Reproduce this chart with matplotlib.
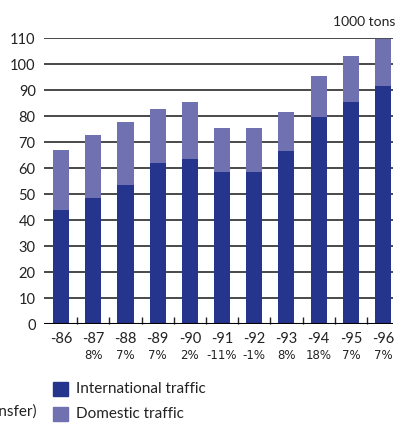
import matplotlib
matplotlib.use("Agg")
import matplotlib.pyplot as plt
from matplotlib.patches import Rectangle

# Freight volumes, 1000 tons
years = ["-86", "-87", "-88", "-89", "-90", "-91", "-92", "-93", "-94", "-95", "-96"]
growth = ["", "8%", "7%", "7%", "2%", "-11%", "-1%", "8%", "18%", "7%", "7%"]
international = [44, 48.5, 53.5, 62, 63.5, 58.5, 58.5, 66.5, 79.5, 85.5, 91.5]
domestic = [23, 24, 24, 20.5, 22, 17, 17, 15, 16, 17.5, 18]
yticks = [0, 10, 20, 30, 40, 50, 60, 70, 80, 90, 100, 110]

C_INT = "#25348c"
C_DOM = "#6f71b0"
W, H = 397, 423

plt.rcParams["font.family"] = ["Lato", "DejaVu Sans"]

fig = plt.figure(figsize=(W / 100, H / 100), dpi=100)
ax = fig.add_axes([44 / W, 1 - 324 / H, (393 - 44) / W, (324 - 38) / H])

x = list(range(len(years)))
ax.bar(x, international, width=0.5, color=C_INT, zorder=3)
ax.bar(x, domestic, width=0.5, bottom=international, color=C_DOM, zorder=3)

ax.set_xlim(-0.53, 10.31)
ax.set_ylim(0, 110)
for v in yticks[1:]:
    ax.axhline(v, color="#3a3a3a", lw=1.3, zorder=1)
ax.axhline(0, color="black", lw=1.5, zorder=4)

for s in ax.spines.values():
    s.set_visible(False)

ax.set_yticks(yticks)
ax.set_yticklabels([str(v) for v in yticks], fontsize=10.5, color="#222222")
ax.tick_params(axis="y", length=0, pad=6)

ax.set_xticks([i + 0.5 for i in range(len(years) - 1)])
ax.set_xticklabels([])
ax.tick_params(axis="x", direction="in", length=5, width=1, color="#222222")

for i, (yr, g) in enumerate(zip(years, growth)):
    ax.annotate(yr, (i, 0), xytext=(0, -6), textcoords="offset points",
                ha="center", va="top", fontsize=10.5, color="#222222")
    if g:
        ax.annotate(g, (i, 0), xytext=(0, -18), textcoords="offset points",
                    ha="center", va="top", fontsize=8.5, color="#222222",
                    family=["Liberation Sans Narrow", "DejaVu Sans"])

fig.text(395 / W, 1 - 22 / H, "1000 tons", ha="right", va="center",
         fontsize=10, color="#222222")

# Legend
for y0, col, lab in [(382, C_INT, "International traffic"),
                     (407, C_DOM, "Domestic traffic")]:
    fig.patches.append(Rectangle((53 / W, 1 - (y0 + 14) / H), 15 / W, 14 / H,
                                 transform=fig.transFigure, color=col))
    fig.text(76 / W, 1 - (y0 + 7) / H, lab, ha="left", va="center",
             fontsize=11, color="#222222")

fig.text(37 / W, 1 - 412 / H, "(incl. transfer)", ha="right", va="center",
         fontsize=11, color="#222222")

fig.savefig("out.png", dpi=100)
